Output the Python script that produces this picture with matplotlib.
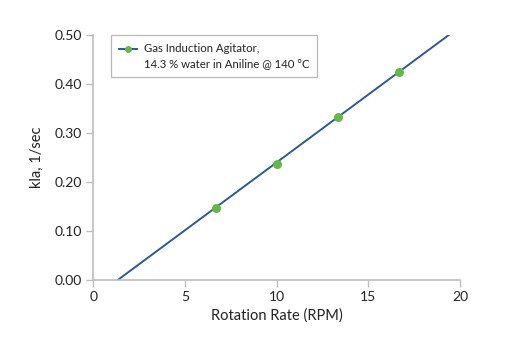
import matplotlib
matplotlib.use("Agg")
import numpy as np
import matplotlib.pyplot as plt
from matplotlib.lines import Line2D
from matplotlib.legend_handler import HandlerLine2D

plt.rcParams['font.family'] = ['Lato', 'DejaVu Sans']

# measured points
rpm = [6.67, 10.0, 13.33, 16.67]
kla = [0.147, 0.236, 0.333, 0.424]

# linear trend line endpoints
trend_rpm = [1.33, 19.4]
trend_kla = [0.0, 0.50]

x_ticks = [0, 5, 10, 15, 20]
y_ticks = [0.0, 0.1, 0.2, 0.3, 0.4, 0.5]
y_tick_labels = ["0.00", "0.10", "0.20", "0.30", "0.40", "0.50"]

legend_label = "Gas Induction Agitator,\n14.3 % water in Aniline @ 140 \u00b0C"

line_color = "#2c5a96"
dot_color = "#62b946"
axis_color = "#bdbdbd"
text_color = "#222222"


class FirstLineHandler(HandlerLine2D):
    """Place the legend key beside the first line of a two-line label."""

    def __init__(self, shift, **kw):
        super().__init__(**kw)
        self.shift = shift

    def create_artists(self, legend, orig_handle, xdescent, ydescent,
                       width, height, fontsize, trans):
        artists = super().create_artists(legend, orig_handle, xdescent,
                                         ydescent, width, height, fontsize,
                                         trans)
        for a in artists:
            a.set_ydata(np.asarray(a.get_ydata(), dtype=float) + self.shift)
        return artists


fig = plt.figure(figsize=(5.18, 3.42), dpi=100)
ax = fig.add_axes([0.180, 0.181, 0.708, 0.717])

ax.plot(trend_rpm, trend_kla, color=line_color, lw=1.4, zorder=2)
ax.plot(rpm, kla, linestyle="none", marker="o", ms=6.5, color=dot_color,
        markeredgewidth=0, zorder=3)

ax.set_xlim(0, 20)
ax.set_ylim(0, 0.5)
ax.set_xticks(x_ticks)
ax.set_yticks(y_ticks)
ax.set_yticklabels(y_tick_labels)

for side in ("top", "right"):
    ax.spines[side].set_visible(False)
for side in ("left", "bottom"):
    ax.spines[side].set_color(axis_color)
    ax.spines[side].set_linewidth(1.2)
ax.tick_params(axis="both", colors=axis_color, length=5, width=1.0,
               labelcolor=text_color, labelsize=10, pad=3)

ax.set_xlabel("Rotation Rate (RPM)", fontsize=10.5, color=text_color, labelpad=4)
ax.set_ylabel("kla, 1/sec", fontsize=10.5, color=text_color, labelpad=8)

handle = Line2D([], [], color=line_color, lw=1.4, marker="o", ms=5,
                markerfacecolor=dot_color, markeredgewidth=0)
leg = ax.legend([handle], [legend_label], loc="upper left",
                bbox_to_anchor=(0.049, 1.0), borderaxespad=0, fontsize=8.2,
                frameon=True, fancybox=False, edgecolor="#a8a8a8",
                handlelength=1.6, handletextpad=0.55, borderpad=0.7,
                labelcolor=text_color,
                handler_map={handle: FirstLineHandler(shift=5.5)})
leg.get_frame().set_linewidth(0.9)
for t in leg.get_texts():
    t.set_linespacing(1.5)

fig.savefig("out.png", dpi=100, facecolor="white")
